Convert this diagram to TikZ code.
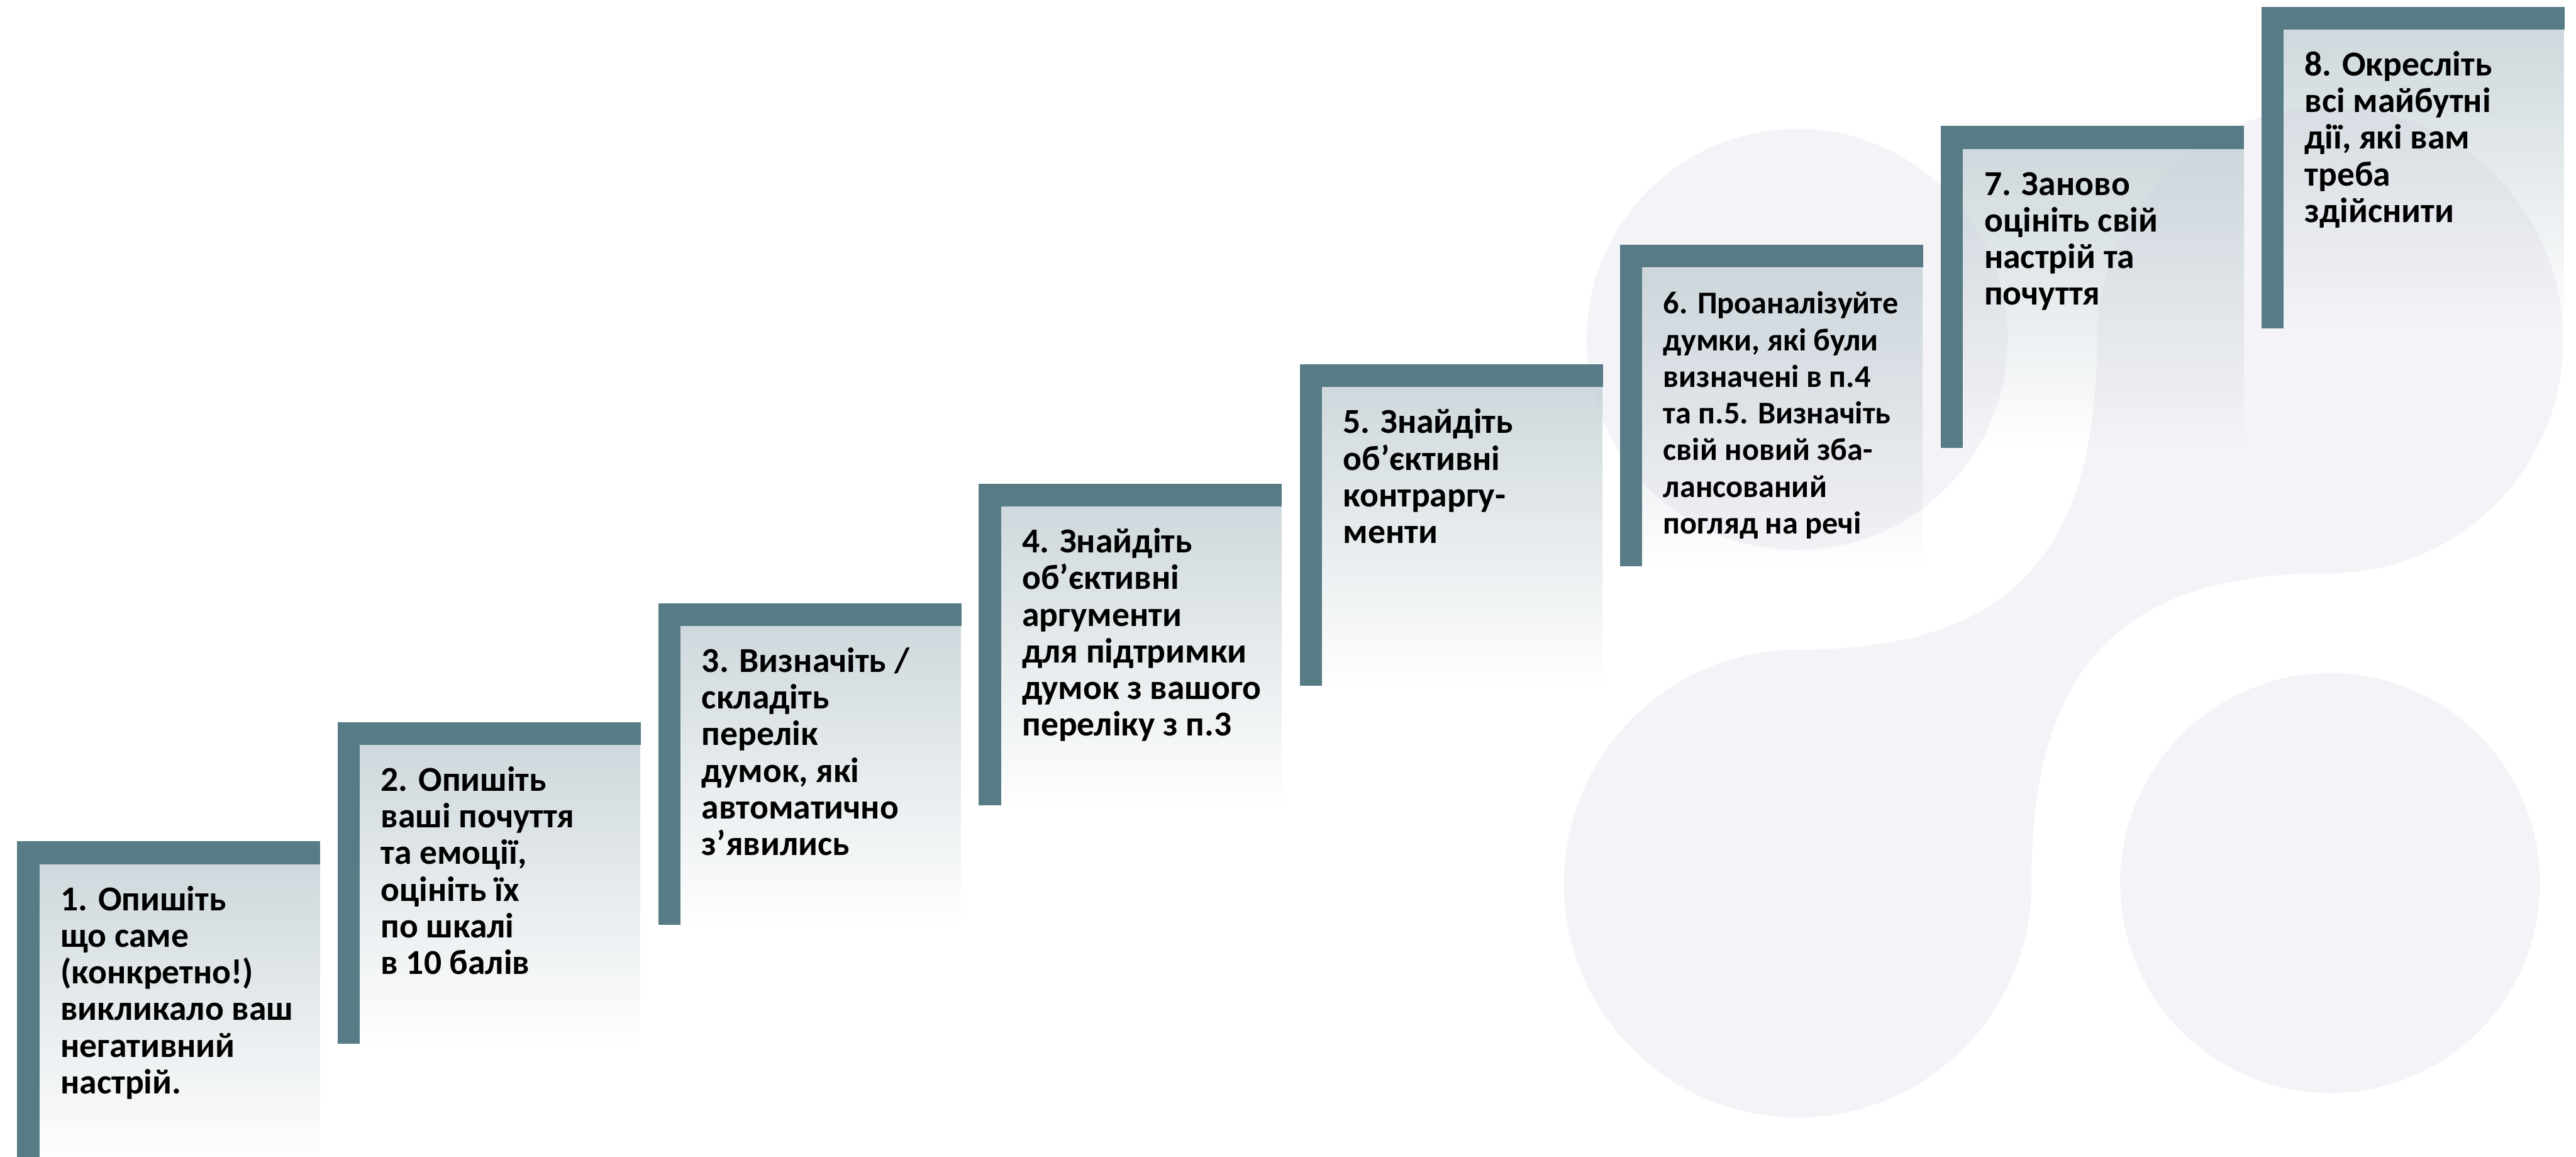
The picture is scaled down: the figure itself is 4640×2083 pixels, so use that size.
\documentclass[tikz,border=0pt]{standalone}
\usepackage{fontspec}
\setmainfont{Carlito}
\usetikzlibrary{fadings}

\definecolor{stepbar}{HTML}{577C86}
\definecolor{steptint}{HTML}{C3CFD4}
\definecolor{blob}{HTML}{F4F3F8}

% tint of each step: strong under the bar, gone at the foot
\tikzfading[name=stepfade, top color=transparent!20, bottom color=transparent!100]

\tikzset{
  steptext/.style={anchor=north west, inner sep=0pt, align=left,
    font=\fontsize{#1}{66}\selectfont\bfseries, text=black},
  stepframe/.style={fill=stepbar},
  steptintfill/.style={fill=steptint, path fading=stepfade},
  blobfill/.style={fill=blob}
}

% fixed height for the first line, so every text starts on the same baseline
\newcommand\firstline{\rule{0pt}{55pt}}

% [#1 font size] #2 number, #3 left edge, #4 top edge, #5 text
\newcommand\drawstep[5][63]{%
  \fill[steptintfill] (#3+40,#4+41) rectangle (#3+546,#4+579);
  \fill[stepframe] (#3,#4) rectangle (#3+546,#4+41);
  \fill[stepframe] (#3,#4) rectangle (#3+40,#4+579);
  \node[steptext=#1] (t#2) at (#3+78,#4+69) {\firstline #5};
}

\begin{document}
\begin{tikzpicture}[x=1pt,y=-1pt]
\useasboundingbox (0,0) rectangle (4640,2083);
\fill[white] (0,0) rectangle (4640,2083);

% decorative background: four discs and the bridge joining the two large ones
\fill[blobfill] (3237,611) circle[radius=379];
\fill[blobfill] (4197,1590) circle[radius=378];
\fill[blobfill] (3238,1591) circle[radius=421];
\fill[blobfill] (4197,612) circle[radius=420];
\fill[blobfill] (3238,1170) .. controls (3615,1170) and (3777,1003) .. (3777,612)
  -- (4197,612) -- (4197,1032)
  .. controls (3820,1032) and (3659,1200) .. (3659,1591)
  -- (3238,1591) -- cycle;

% the eight steps
\drawstep{1}{31}{1515}{1. Опишіть\\що саме\\(конкретно!)\\викликало ваш\\негативний\\настрій.}
\drawstep{2}{608}{1300}{2. Опишіть\\ваші почуття\\та емоції,\\оцініть їх\\по шкалі\\в 10 балів}
\drawstep{3}{1186}{1086}{3. Визначіть /\\складіть\\перелік\\думок, які\\автоматично\\з’явились}
\drawstep{4}{1763}{871}{4. Знайдіть\\об’єктивні\\аргументи\\для підтримки\\думок з вашого\\переліку з п.3}
\drawstep{5}{2341}{656}{5. Знайдіть\\об’єктивні\\контраргу-\\менти}
\drawstep[57]{6}{2918}{441}{6. Проаналізуйте\\думки, які були\\визначені в п.4\\та п.5. Визначіть\\свій новий зба-\\лансований\\погляд на речі}
\drawstep{7}{3496}{227}{7. Заново\\оцініть свій\\настрій та\\почуття}
\drawstep{8}{4073}{12}{8. Окресліть\\всі майбутні\\дії, які вам\\треба\\здійснити}
\end{tikzpicture}
\end{document}
